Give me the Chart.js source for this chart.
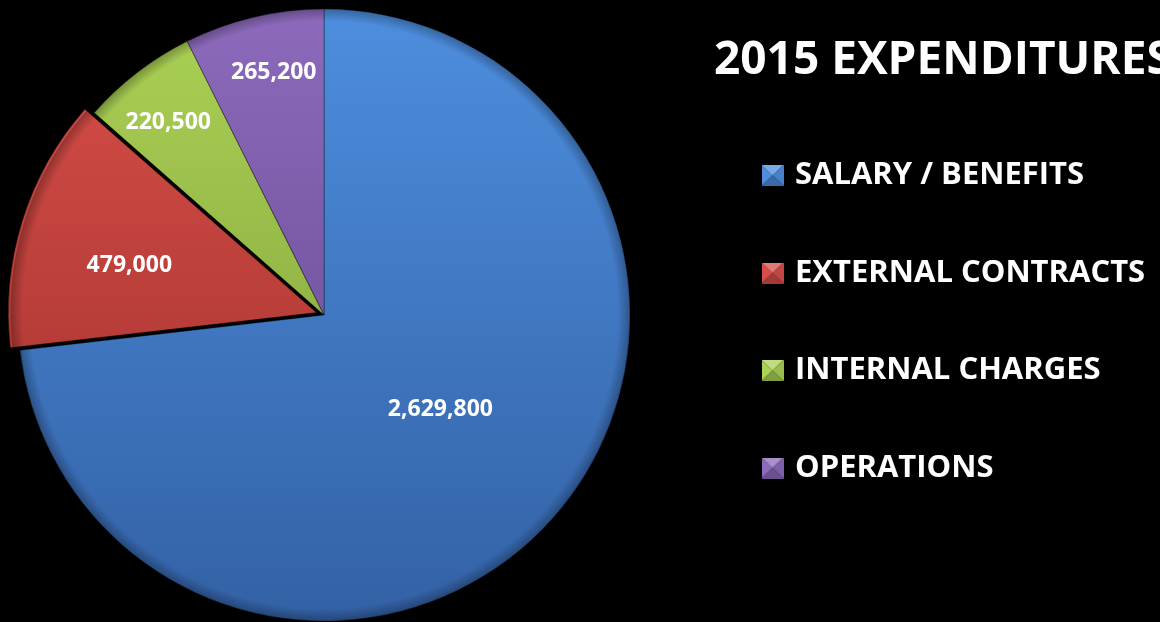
<!DOCTYPE html>
<html>
<head>
<meta charset="utf-8">
<title>2015 Expenditures</title>
<script src="https://cdn.jsdelivr.net/npm/chart.js@4.4.1/dist/chart.umd.min.js"></script>
<style>
  html, body { margin: 0; padding: 0; background: #000; overflow: hidden; }
  #marco { position: relative; width: 1160px; height: 622px; overflow: hidden; }
  #grafico { position: absolute; top: 0; display: block; }
</style>
</head>
<body>
<div id="marco"><canvas id="grafico"></canvas></div>
<script>
// Datos del gráfico
const categorias = ['SALARY / BENEFITS', 'EXTERNAL CONTRACTS', 'INTERNAL CHARGES', 'OPERATIONS'];
const montos = [2629800, 479000, 220500, 265200];
const titulo = '2015 EXPENDITURES';

// Colores (arriba / abajo del degradado)
const tonos = [
  ['#4d8ede', '#3361a5'],
  ['#d84f49', '#9c2d29'],
  ['#abd155', '#7a9836'],
  ['#8d6abc', '#5f4589']
];

// Medidas (en px de la página)
const ANCHO = 1160;
const ALTO = 622;
const RADIO = 306;
const CENTRO_X = 324;
const FUENTE = 'Open Sans';
const FUENTE_LEYENDA = 31;
const SEP_FILAS = 97.5;
const ANCHO_CUADRO = 14;
const CUADRO_X = 765.5;
const ESPACIO_LEYENDA = 15;   // alto del título vacío que baja la leyenda
const PAD_TOP = 78.5;
const PAD_BOTTOM = 70.5;
const TITULO_X = 714;
const TITULO_Y = 74;
// Ubicación de cada etiqueta: fracción del radio y fracción del ángulo de la rebanada
const etiquetaRadio = [0.49, 0.63, 0.81, 0.81];
const etiquetaAngulo = [0.49, 0.43, 0.44, 0.56];

Chart.defaults.font.family = FUENTE;

// Cuadrito de la leyenda con efecto de pirámide
function aclarar(hex, f) {
  const n = parseInt(hex.slice(1), 16);
  const c = [(n >> 16) & 255, (n >> 8) & 255, n & 255].map(v =>
    Math.round(f >= 0 ? v + (255 - v) * f : v * (1 + f)));
  return `rgb(${c[0]},${c[1]},${c[2]})`;
}

function cuadrito(base) {
  const c = document.createElement('canvas');
  c.width = 22; c.height = 21;
  const g = c.getContext('2d');
  const w = c.width, h = c.height, cx = w / 2, cy = h / 2;
  const caras = [
    [[0, 0], [w, 0], 0.25],
    [[0, 0], [0, h], 0.0],
    [[w, 0], [w, h], -0.1],
    [[0, h], [w, h], -0.25]
  ];
  caras.forEach(([a, b, f]) => {
    g.beginPath();
    g.moveTo(a[0], a[1]); g.lineTo(b[0], b[1]); g.lineTo(cx, cy); g.closePath();
    g.fillStyle = aclarar(base, f);
    g.fill();
  });
  return c;
}
const cuadros = tonos.map(t => cuadrito(t[0]));

// La leyenda va a la derecha; el lienzo se corre a la izquierda para que
// el pastel quede centrado en CENTRO_X
const medidor = document.createElement('canvas').getContext('2d');
medidor.font = `bold ${FUENTE_LEYENDA}px "${FUENTE}"`;
const anchoTexto = Math.max(...categorias.map(t => medidor.measureText(t).width));
const padLeyenda = SEP_FILAS - FUENTE_LEYENDA;
const leyendaIzq = CUADRO_X - padLeyenda;
const anchoLeyenda = padLeyenda + ANCHO_CUADRO + FUENTE_LEYENDA / 2 + anchoTexto + 10;
const corrimiento = Math.max(0, Math.round(leyendaIzq - 2 * CENTRO_X));
const PAD_LEFT = leyendaIzq - 2 * CENTRO_X - corrimiento;
const PAD_RIGHT = ANCHO - leyendaIzq - anchoLeyenda;

const lienzo = document.getElementById('grafico');
lienzo.width = ANCHO + corrimiento;
lienzo.height = ALTO;
lienzo.style.left = -corrimiento + 'px';

// Sombra suave en el borde de cada rebanada y etiquetas de valor
const etiquetasPlugin = {
  id: 'etiquetas',
  afterDatasetsDraw(chart) {
    const { ctx } = chart;
    const meta = chart.getDatasetMeta(0);
    const valores = chart.data.datasets[0].data;
    const geo = meta.data.map(arc => {
      const p = arc.getProps(['x', 'y', 'startAngle', 'endAngle', 'outerRadius'], true);
      const mid = (p.startAngle + p.endAngle) / 2;
      const d = (arc.options.offset || 0) / 4;
      return { ...p, ox: p.x + Math.cos(mid) * d, oy: p.y + Math.sin(mid) * d };
    });

    geo.forEach(a => {
      const g = ctx.createRadialGradient(a.ox, a.oy, 0, a.ox, a.oy, a.outerRadius);
      g.addColorStop(0, 'rgba(0,0,0,0)');
      g.addColorStop(0.96, 'rgba(0,0,0,0)');
      g.addColorStop(1, 'rgba(0,0,0,0.28)');
      ctx.save();
      ctx.beginPath();
      ctx.moveTo(a.ox, a.oy);
      ctx.arc(a.ox, a.oy, a.outerRadius, a.startAngle, a.endAngle);
      ctx.closePath();
      ctx.fillStyle = g;
      ctx.fill();
      ctx.restore();
    });

    ctx.save();
    ctx.font = `bold 23px "${FUENTE}"`;
    ctx.fillStyle = '#ffffff';
    ctx.textAlign = 'center';
    ctx.textBaseline = 'middle';
    geo.forEach((a, i) => {
      const ang = a.startAngle + (a.endAngle - a.startAngle) * etiquetaAngulo[i];
      const r = a.outerRadius * etiquetaRadio[i];
      ctx.fillText(valores[i].toLocaleString('en-US'), a.ox + Math.cos(ang) * r, a.oy + Math.sin(ang) * r);
    });
    ctx.restore();
  }
};

// Título arriba a la derecha
const tituloPlugin = {
  id: 'tituloDerecha',
  afterDraw(chart) {
    const { ctx } = chart;
    ctx.save();
    ctx.font = `bold 46px "${FUENTE}"`;
    ctx.fillStyle = '#ffffff';
    ctx.textAlign = 'left';
    ctx.textBaseline = 'alphabetic';
    ctx.fillText(titulo, TITULO_X + corrimiento, TITULO_Y);
    ctx.restore();
  }
};

new Chart(lienzo, {
  type: 'pie',
  data: {
    labels: categorias,
    datasets: [{
      data: montos,
      backgroundColor(c) {
        const area = c.chart.chartArea;
        const t = tonos[c.dataIndex];
        if (!area) return t[0];
        const cy = (area.top + area.bottom) / 2;
        const g = c.chart.ctx.createLinearGradient(0, cy - RADIO, 0, cy + RADIO);
        g.addColorStop(0, t[0]);
        g.addColorStop(1, t[1]);
        return g;
      },
      borderColor: 'rgba(0,0,0,0.35)',
      borderWidth: 1,
      offset: [0, 32, 0, 0],
      hoverOffset: 0,
      clip: false
    }]
  },
  options: {
    responsive: false,
    animation: false,
    events: [],
    radius: RADIO,
    layout: {
      padding: { top: PAD_TOP, bottom: PAD_BOTTOM, left: PAD_LEFT, right: PAD_RIGHT }
    },
    plugins: {
      tooltip: { enabled: false },
      legend: {
        position: 'right',
        align: 'start',
        title: {
          display: true,
          text: '',
          padding: 0,
          font: { size: ESPACIO_LEYENDA, lineHeight: 1 }
        },
        labels: {
          usePointStyle: true,
          pointStyleWidth: ANCHO_CUADRO,
          padding: padLeyenda,
          color: '#ffffff',
          font: { size: FUENTE_LEYENDA, weight: 'bold' },
          generateLabels: chart => chart.data.labels.map((texto, i) => ({
            text: texto,
            pointStyle: cuadros[i],
            fillStyle: tonos[i][0],
            strokeStyle: 'transparent',
            lineWidth: 0,
            fontColor: '#ffffff',
            hidden: false,
            index: i
          }))
        }
      }
    }
  },
  plugins: [etiquetasPlugin, tituloPlugin]
});
</script>
</body>
</html>
